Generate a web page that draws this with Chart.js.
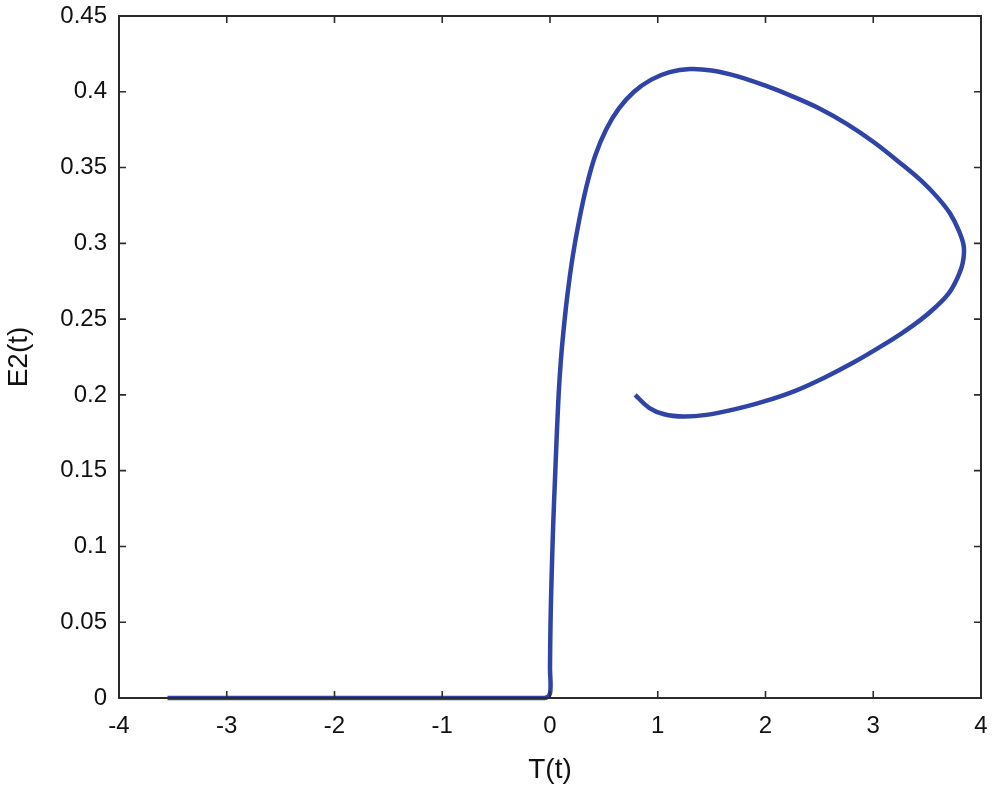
<!DOCTYPE html>
<html>
<head>
<meta charset="utf-8">
<script src="https://cdn.jsdelivr.net/npm/chart.js@4"></script>
<style>
  html, body { margin: 0; padding: 0; background: #ffffff; }
  #wrap { width: 995px; height: 792px; }
</style>
</head>
<body>
<div id="wrap"><canvas id="c" width="995" height="792"></canvas></div>
<script>
// Phase-portrait data: T(t) on x, E2(t) on y
const tValues = [-3.55, -2.5, -1.5, -0.5, -0.05, 0.0, 0.0, 0.005, 0.015, 0.03, 0.046, 0.062, 0.08, 0.10, 0.125, 0.16, 0.21, 0.27, 0.34, 0.42, 0.52, 0.64, 0.78, 0.94, 1.11, 1.3, 1.5, 1.75, 2.0, 2.25, 2.5, 2.75, 3.0, 3.25, 3.45, 3.6, 3.71, 3.79, 3.84, 3.83, 3.78, 3.70, 3.58, 3.43, 3.26, 3.06, 2.82, 2.55, 2.27, 1.98, 1.7, 1.45, 1.24, 1.06, 0.92, 0.79];
const e2Values = [0, 0, 0, 0, 0, 0.003, 0.02, 0.05, 0.08, 0.115, 0.144, 0.172, 0.200, 0.222, 0.242, 0.265, 0.291, 0.315, 0.338, 0.358, 0.375, 0.389, 0.400, 0.408, 0.413, 0.415, 0.414, 0.410, 0.404, 0.397, 0.389, 0.379, 0.367, 0.353, 0.341, 0.330, 0.320, 0.309, 0.298, 0.287, 0.277, 0.267, 0.258, 0.249, 0.2405, 0.2315, 0.2215, 0.2115, 0.2025, 0.1955, 0.1903, 0.1868, 0.1857, 0.1872, 0.1915, 0.200];

const xTickValues = [-4, -3, -2, -1, 0, 1, 2, 3, 4];
const xTickLabels = ['-4', '-3', '-2', '-1', '0', '1', '2', '3', '4'];
const yTickValues = [0, 0.05, 0.1, 0.15, 0.2, 0.25, 0.3, 0.35, 0.4, 0.45];
const yTickLabels = ['0', '0.05', '0.1', '0.15', '0.2', '0.25', '0.3', '0.35', '0.4', '0.45'];

const xTitle = 'T(t)';
const yTitle = 'E2(t)';

const points = tValues.map((t, i) => ({ x: t, y: e2Values[i] }));

const FONT = 'Liberation Sans, Arial, Helvetica, sans-serif';
const AXIS_COLOR = '#2b2b2b';

const boxPlugin = {
  id: 'boxTicks',
  afterDatasetsDraw(chart) {
    const { ctx, chartArea: a, scales } = chart;
    const len = 7;
    ctx.save();
    ctx.strokeStyle = AXIS_COLOR;
    ctx.lineWidth = 1.6;
    ctx.beginPath();
    scales.x.ticks.forEach(tk => {
      const px = scales.x.getPixelForValue(tk.value);
      ctx.moveTo(px, a.bottom); ctx.lineTo(px, a.bottom - len);
      ctx.moveTo(px, a.top); ctx.lineTo(px, a.top + len);
    });
    scales.y.ticks.forEach(tk => {
      const py = scales.y.getPixelForValue(tk.value);
      ctx.moveTo(a.left, py); ctx.lineTo(a.left + len, py);
      ctx.moveTo(a.right, py); ctx.lineTo(a.right - len, py);
    });
    ctx.stroke();
    ctx.lineWidth = 2;
    ctx.strokeRect(a.left, a.top, a.right - a.left, a.bottom - a.top);
    ctx.restore();
  }
};

new Chart(document.getElementById('c'), {
  type: 'scatter',
  data: {
    datasets: [{
      data: points,
      showLine: true,
      borderColor: '#2F44A6',
      borderWidth: 4.5,
      pointRadius: 0,
      tension: 0.35,
      fill: false,
      clip: false
    }]
  },
  options: {
    responsive: false,
    animation: false,
    devicePixelRatio: 1,
    layout: { padding: { top: 16, right: 14, left: 0, bottom: 0 } },
    plugins: { legend: { display: false }, tooltip: { enabled: false } },
    scales: {
      x: {
        type: 'linear',
        min: -4, max: 4,
        afterBuildTicks: s => { s.ticks = xTickValues.map(v => ({ value: v })); },
        afterFit: s => { s.height = 94; s.paddingLeft = 0; s.paddingRight = 0; },
        ticks: {
          color: '#111',
          font: { family: FONT, size: 24 },
          padding: 14,
          maxRotation: 0,
          callback: (v, i) => xTickLabels[i]
        },
        grid: { display: true, drawOnChartArea: false, drawTicks: false },
        border: { display: false },
        title: {
          display: true, text: xTitle, color: '#111',
          font: { family: FONT, size: 28 },
          padding: { top: 4, bottom: 5 }
        }
      },
      y: {
        type: 'linear',
        min: 0, max: 0.45,
        afterBuildTicks: s => { s.ticks = yTickValues.map(v => ({ value: v })); },
        afterFit: s => { s.width = 119; s.paddingTop = 0; s.paddingBottom = 0; },
        ticks: {
          color: '#111',
          font: { family: FONT, size: 24 },
          padding: 12,
          callback: (v, i) => yTickLabels[i]
        },
        grid: { display: true, drawOnChartArea: false, drawTicks: false },
        border: { display: false },
        title: {
          display: true, text: yTitle, color: '#111',
          font: { family: FONT, size: 28 },
          padding: { top: 2, bottom: 4 }
        }
      }
    }
  },
  plugins: [boxPlugin]
});
</script>
</body>
</html>
